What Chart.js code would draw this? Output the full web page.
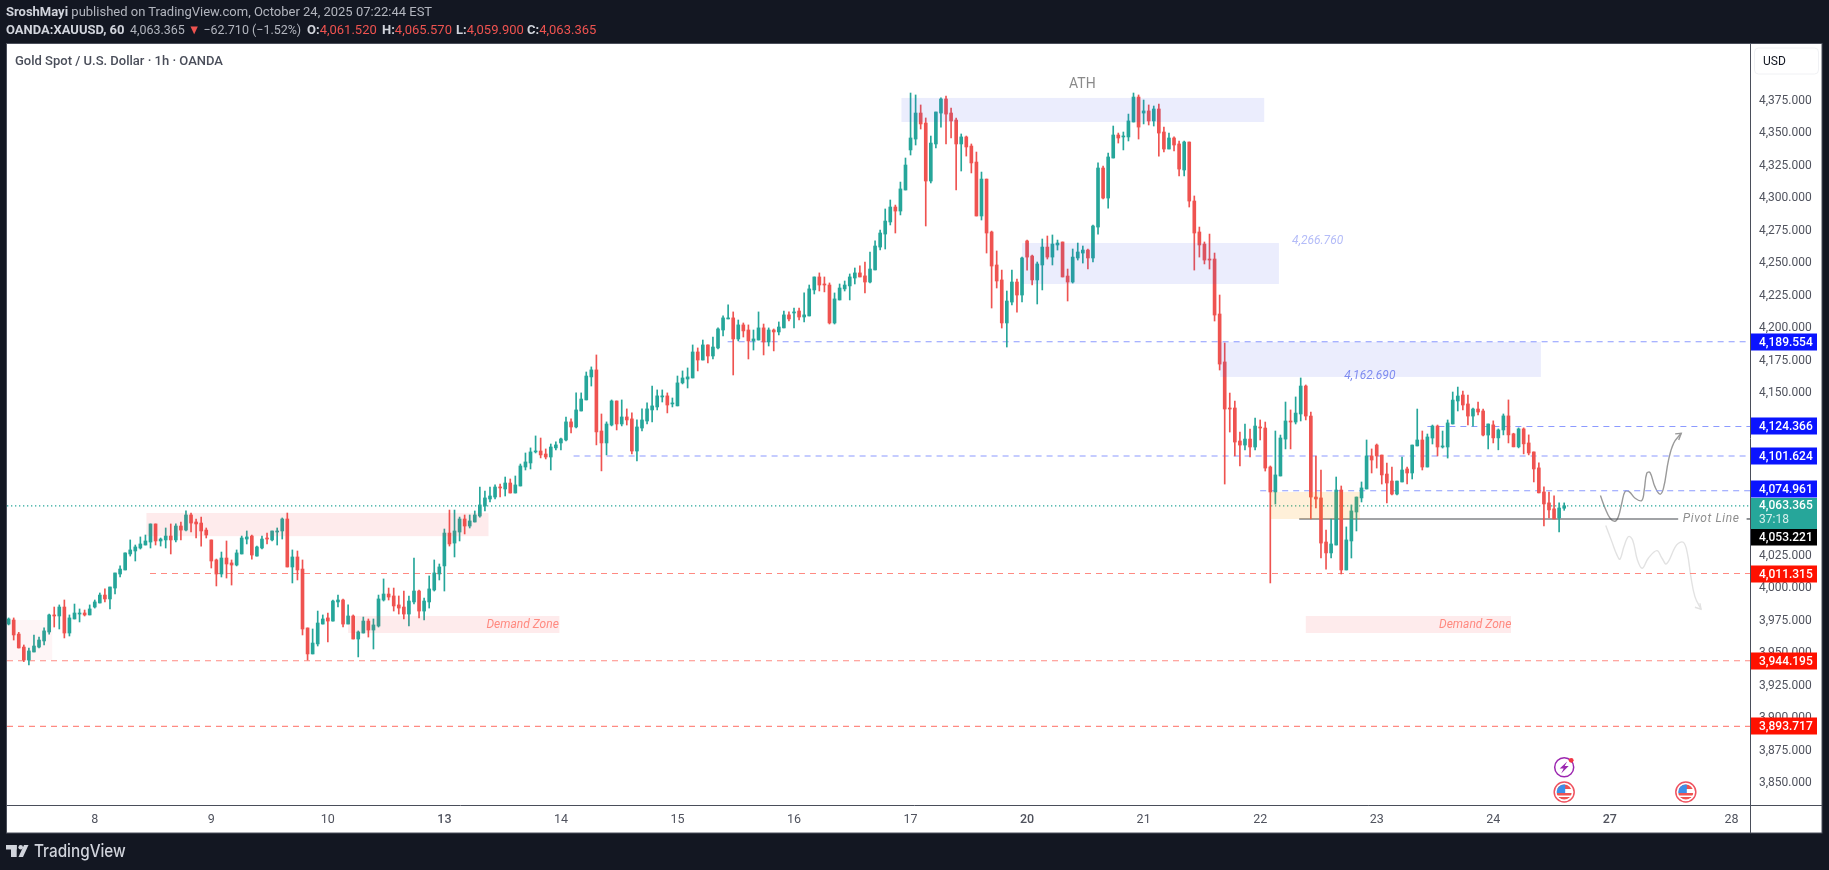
<!DOCTYPE html>
<html>
<head>
<meta charset="utf-8">
<title>XAUUSD</title>
<script src="https://cdn.jsdelivr.net/npm/chart.js@4"></script>
<style>
  html, body { margin: 0; padding: 0; background: #131722; overflow: hidden; }
  #wrap { position: relative; width: 1829px; height: 870px; }
  canvas { position: absolute; left: 0; top: 0; }
  .txt { position: absolute; white-space: pre; font-family: Roboto, sans-serif; font-size: 13px; line-height: 16px; color: #b2b5be; }
  .txt b { color: #d1d4dc; font-weight: 700; }
  .txt i { font-style: normal; color: #ef5350; }
  #logoText { font-family: Inter, sans-serif; font-weight: 500; font-size: 17px; line-height: 20px; color: #d1d4dc; transform: scaleX(.9); transform-origin: left center; }
  #title { font-size: 13px; color: #4a4e5a; font-weight: 500; }
  #change { transform: scaleX(.96); transform-origin: left center; }
</style>
</head>
<body>
<div id="wrap">
  <canvas id="myChart" width="1829" height="870"></canvas>
  <div class="txt" style="left:6px;top:4px"><b>SroshMayi</b> published on TradingView.com, October 24, 2025 07:22:44 EST</div>
  <div class="txt" style="left:6px;top:22px"><b>OANDA:XAUUSD, 60</b></div>
  <div class="txt" id="change" style="left:130px;top:22px">4,063.365 <i>▼</i> −62.710 (−1.52%)</div>
  <div class="txt" style="left:307px;top:22px"><b>O:</b><i>4,061.520</i></div>
  <div class="txt" style="left:382px;top:22px"><b>H:</b><i>4,065.570</i></div>
  <div class="txt" style="left:456px;top:22px"><b>L:</b><i>4,059.900</i></div>
  <div class="txt" style="left:527px;top:22px"><b>C:</b><i>4,063.365</i></div>
  <div class="txt" id="title" style="left:15px;top:53px">Gold Spot / U.S. Dollar · 1h · OANDA</div>
  <div class="txt" id="logoText" style="left:34px;top:841px">TradingView</div>
</div>
<script>
// OHLC, one value per hourly candle
const opens = [
  3972.4,3975.5,3964.7,3954.7,3944.7,3950.9,3954.7,3959.4,3966.3,3979.4,
  3978.6,3985.5,3965.5,3976.3,3980.1,3980.9,3979.4,3985.5,3988.6,3994.7,
  3991.7,4000.1,4010.9,4014,4026.3,4028.6,4030.9,4033.2,4035.5,4049.4,
  4036.3,4037.1,4040.1,4037.1,4047.8,4044.7,4056.3,4050.9,4050.1,4044.7,
  4037.1,4021.7,4010.9,4023.2,4019.4,4017.8,4026.3,4037.8,4040.1,4024.7,
  4030.9,4038.6,4037.1,4043.2,4044,4053.2,4016.3,4024,4014.7,3969.4,
  3949.4,3957.1,3972.4,3977.1,3974.7,3989.4,3990.9,3972.4,3978.6,3960.9,
  3965.5,3974.7,3967.8,3970.9,3990.9,3995.5,3994,3987.1,3985.5,3980.1,
  3989.4,3997.8,3982.4,3989.4,3998.6,4010.9,4017.1,4042.4,4034.7,4043.2,
  4053.2,4047.8,4050.9,4055.5,4063.2,4068.6,4070.1,4077.8,4076.3,4080.9,
  4073.2,4078.6,4093.2,4096.3,4104.8,4105.5,4103.2,4100.9,4107.9,4111.7,
  4114,4127.9,4124,4136.3,4144.8,4162.5,4167.9,4120.9,4111.7,4125.5,
  4144,4126.3,4131.7,4130.2,4105.5,4123.2,4128.6,4137.1,4139.4,4147.1,
  4147.9,4141.7,4140.2,4157.9,4160.9,4161.7,4181.7,4175.5,4187.1,4178.6,
  4184.8,4198.6,4207.1,4207.9,4191.7,4202.5,4198.6,4190.2,4190.9,4200.2,
  4189.4,4198.6,4197.1,4200.2,4210.2,4211.7,4213.2,4208.6,4209.4,4229.4,
  4239.4,4234,4233.2,4204,4221.7,4230.2,4232.5,4238.6,4242.5,4240.2,
  4235.5,4244.8,4262.4,4272.4,4281.7,4293.2,4290.1,4306.3,4337.1,4345.5,
  4365.5,4357.8,4313.2,4341.7,4365.5,4376.3,4365.5,4360.1,4341.7,4347.1,
  4340.1,4327.8,4286.3,4314.7,4274,4248.6,4237.1,4204,4220.1,4235.5,
  4225.5,4267.1,4255.5,4237.1,4248.6,4262.4,4254.7,4264,4266.3,4240.1,
  4235.5,4254,4257.8,4260.1,4254,4277.8,4323.2,4300.1,4330.9,4348.6,
  4347.1,4347.1,4358.6,4377.8,4365.5,4367.1,4359.4,4368.6,4350.9,4337.8,
  4346.3,4341.7,4321.7,4343.2,4297.8,4274,4264.7,4253.2,4253.2,4210.9,
  4174,4138.6,4138.6,4113.2,4110.1,4114.7,4108.6,4124,4123.2,4093.2,
  4074,4086.3,4114.7,4128.6,4127.8,4134,4155.5,4132.4,4070.1,4069.4,
  4035.5,4027.1,4033.2,4075.5,4014,4036.3,4058.6,4069.4,4076.3,4101.7,
  4110.1,4102.4,4087.8,4082.4,4072.4,4081.7,4091.7,4088.6,4109.4,4114,
  4093.2,4115.5,4124.7,4108.6,4108.6,4126.3,4144,4148.6,4141.7,4132.4,
  4137.8,4136.3,4117.8,4125.6,4115.6,4121.7,4132.5,4118.7,4108.7,4122.5,
  4111.7,4104.8,4092.5,4074,4065.6,4061,4054,4061.5
];
const highs = [
  3977.1,3977.1,3966,3956.3,3954,3964,3962.4,3969.4,3980.1,3985.5,
  3987.1,3990.9,3979.4,3987.8,3984,3983.2,3987.1,3990.9,3996.3,3999.4,
  4000.9,4011.7,4017.1,4027.1,4037.1,4033.2,4039.4,4040.9,4049.4,4049.4,
  4038.6,4046.3,4049.4,4049.4,4050.9,4059.4,4057.8,4053.2,4054.7,4046.3,
  4037.1,4022.4,4027.8,4036.3,4021.7,4029.4,4040.1,4044,4040.9,4032.4,
  4040.1,4042.4,4044,4046.3,4054,4057.8,4029.4,4028.6,4021.7,3969.4,
  3968.6,3982.4,3979.4,3980.9,3990.9,3994.7,3991.7,3987.1,3979.4,3967.1,
  3977.8,3976.3,3976.3,3994.7,4007.1,4000.1,4000.1,3994,3997.8,3994,
  4023.2,3998.6,3992.4,4009.4,4021.7,4018.6,4045.5,4060.1,4060.1,4054.7,
  4056.3,4056.3,4059.4,4077.8,4074.7,4077.8,4079.4,4080.1,4085.5,4084,
  4086.3,4095.5,4104,4107.9,4117.1,4115.5,4107.1,4110.9,4112.5,4115.5,
  4131.7,4130.2,4150.2,4150.2,4166.3,4170.2,4179.4,4134,4127.9,4144.8,
  4144,4144.8,4137.9,4134.8,4129.4,4137.9,4142.5,4155.5,4152.5,4152.5,
  4150.2,4146.3,4163.2,4167.1,4169.4,4187.1,4184.8,4190.9,4187.1,4193.2,
  4200.2,4209.4,4217.9,4212.5,4206.3,4204,4202.5,4198.6,4212.5,4203.2,
  4200.2,4199.4,4204.8,4213.2,4212.5,4215.5,4215.5,4227.1,4233.2,4239.4,
  4242.5,4239.4,4234.8,4227.1,4234,4236.3,4241.7,4246.3,4247.9,4250.9,
  4258.6,4267.1,4275.5,4291.7,4298.6,4294.7,4312.4,4330.9,4380.9,4379.4,
  4371.7,4361.7,4347.8,4366.3,4377.1,4378.6,4369.4,4361.7,4349.4,4347.8,
  4341.7,4335.5,4320.1,4314.7,4274.7,4259.4,4244.7,4228.6,4244.7,4237.8,
  4254.7,4267.8,4256.3,4250.9,4268.6,4270.9,4271.7,4267.8,4266.3,4245.5,
  4260.9,4265.5,4263.2,4260.9,4279.4,4327.1,4324.7,4334.7,4355.5,4350.1,
  4350.9,4364.7,4380.9,4379.4,4375.5,4371.7,4370.9,4372.4,4354.7,4350.1,
  4347.1,4344,4344,4343.2,4301.7,4277.8,4266.3,4272.4,4257.8,4225.5,
  4188.6,4150.1,4144,4120.1,4126.3,4122.4,4130.9,4129.4,4127.8,4094,
  4120.9,4117.8,4143.2,4137.1,4147.1,4161.7,4156.3,4135.5,4101.7,4090.9,
  4044.7,4053.2,4085.5,4078.6,4047.1,4064,4070.1,4081.7,4114,4107.1,
  4110.9,4102.4,4096.3,4093.2,4082.4,4100.9,4093.2,4110.1,4137.8,4120.9,
  4118.6,4125.5,4125.5,4120.9,4129.4,4150.9,4154.7,4151.7,4148.6,4138.6,
  4143.2,4137.8,4126.3,4128.7,4122.5,4134,4144.8,4119.2,4123.3,4123.3,
  4117.9,4104.8,4096.4,4077.9,4074,4071,4065.6,4065.6
];
const lows = [
  3971.7,3960.1,3954,3943.5,3940.9,3950.9,3954,3956.3,3964.7,3970.1,
  3968.6,3961.7,3963.2,3976.3,3974,3978.6,3979.4,3984.7,3988.6,3989.4,
  3984,3995.5,4008.6,4014,4024.7,4020.9,4030.1,4033.2,4030.9,4033.2,
  4032.4,4030.9,4026.3,4035.5,4037.1,4044,4043.2,4038.6,4032.4,4038.6,
  4015.5,4001.7,4008.6,4007.8,4002.4,4017.1,4026.3,4034,4022.4,4024.7,
  4030.1,4034,4036.3,4033.2,4037.8,4016.3,4004,4006.3,3964,3944.7,
  3949.4,3955.5,3972.4,3958.6,3974.7,3985.5,3970.1,3972.4,3960.9,3947.1,
  3965.5,3962.4,3953.2,3970.1,3990.1,3990.9,3982.4,3980.1,3976.3,3970.9,
  3987.8,3977.1,3975.5,3984.7,3997.8,4006.3,3997.8,4032.4,4024,4036.3,
  4041.7,4046.3,4050.9,4054.7,4059.4,4066.3,4068.6,4070.1,4070.9,4073.2,
  4073.2,4078.6,4090.9,4091.7,4104,4100.2,4099.4,4090.9,4106.3,4106.3,
  4113.2,4119.4,4123.2,4136.3,4144.8,4155.5,4110.2,4090.2,4102.5,4124.8,
  4121.7,4124.8,4125.5,4103.2,4097.9,4120.9,4126.3,4127.9,4137.1,4143.2,
  4134.8,4139.4,4140.2,4157.1,4154,4161.7,4167.1,4175.5,4173.2,4176.3,
  4184,4194,4207.1,4164,4190.2,4193.2,4176.3,4183.2,4190.9,4179.4,
  4186.3,4182.5,4194.8,4200.2,4205.5,4200.2,4206.3,4204.8,4209.4,4226.3,
  4228.6,4227.9,4203.2,4203.2,4221.7,4228.6,4221.7,4234,4239.4,4227.1,
  4234.8,4244.8,4260.1,4260.9,4279.4,4273.2,4287.1,4306.3,4333.2,4340.9,
  4353.2,4278.6,4311.7,4338.6,4354.7,4341.7,4346.3,4306.3,4320.9,4332.4,
  4319.4,4286.3,4283.2,4257.8,4215.5,4230.9,4200.1,4185.5,4217.8,4212.4,
  4220.1,4244.7,4233.2,4218.6,4229.4,4253.2,4248.6,4260.1,4239.4,4220.9,
  4234.7,4252.4,4250.1,4245.5,4250.9,4272.4,4299.4,4292.4,4330.9,4342.4,
  4337.1,4344,4358.6,4345.5,4357.1,4356.3,4355.5,4332.4,4335.5,4337.8,
  4336.3,4317.1,4317.1,4293.2,4244.7,4254.7,4249.4,4245.5,4205.5,4167.8,
  4080.1,4120.1,4101.7,4094,4106.3,4100.9,4106.3,4114,4090.1,4004,
  4064.7,4086.3,4107.1,4107.1,4126.3,4128.6,4129.4,4053.2,4061.7,4023.2,
  4014.7,4023.2,4033.2,4010.9,4014,4023.2,4044,4066.3,4076.3,4088.6,
  4092.4,4080.1,4065.5,4071.7,4071.7,4081.7,4080.1,4084,4109.4,4090.9,
  4093.2,4110.9,4101.7,4107.8,4100.1,4126.3,4136.3,4137.1,4125.5,4124.7,
  4133.2,4117.1,4107.1,4111.7,4106.4,4117.9,4111.7,4108.7,4107.9,4103.3,
  4102.5,4081.7,4073.3,4047.9,4054,4053.3,4043.3,4059.9
];
const closes = [
  3976.3,3964,3954,3944.7,3951.7,3955.5,3960.1,3967.1,3979.4,3978.6,
  3985.5,3965.5,3977.1,3980.9,3980.9,3979.4,3984,3989.4,3994.7,3991.7,
  4000.9,4011.7,4014.7,4027.1,4029.4,4031.7,4034,4036.3,4049.4,4036.3,
  4037.8,4040.1,4037.1,4047.8,4044.7,4056.3,4050.1,4049.4,4044,4040.9,
  4020.9,4010.9,4023.2,4018.6,4017.8,4027.1,4038.6,4039.4,4025.5,4031.7,
  4037.8,4037.8,4044,4044,4053.2,4016.3,4024,4014,3968.6,3949.4,
  3957.8,3973.2,3976.3,3974.7,3990.1,3990.9,3972.4,3978.6,3960.9,3966.3,
  3974.7,3967.8,3971.7,3991.7,3995.5,3993.2,3986.3,3984.7,3980.1,3990.1,
  3997.8,3982.4,3990.1,3999.4,4011.7,4016.3,4042.4,4034,4044,4053.2,
  4047.8,4051.7,4056.3,4064,4069.4,4070.9,4077.8,4077.1,4080.9,4073.2,
  4079.4,4094,4097.1,4104.8,4105.5,4102.5,4100.9,4108.6,4110.2,4114.8,
  4127.9,4124,4137.1,4145.5,4163.2,4167.9,4120.2,4111.7,4126.3,4144,
  4126.3,4131.7,4129.4,4105.5,4124,4129.4,4137.9,4140.2,4147.9,4147.9,
  4140.9,4142.5,4157.9,4161.7,4162.5,4181.7,4175.5,4187.1,4178.6,4185.5,
  4199.4,4207.9,4207.9,4191.7,4202.5,4197.9,4190.2,4191.7,4200.2,4189.4,
  4198.6,4197.1,4200.9,4210.2,4207.1,4212.5,4208.6,4210.2,4230.2,4239.4,
  4233.2,4233.2,4204,4222.5,4230.9,4233.2,4239.4,4242.5,4239.4,4235.5,
  4245.5,4263.2,4273.2,4282.4,4293.2,4290.1,4307.1,4325.5,4346.3,4365.5,
  4357.1,4313.2,4342.4,4366.3,4376.3,4364.7,4359.4,4341.7,4347.1,4339.4,
  4327.1,4286.3,4314.7,4273.2,4247.8,4236.3,4204,4220.9,4235.5,4225.5,
  4254,4254.7,4237.1,4249.4,4262.4,4254.7,4264.7,4265.5,4239.4,4235.5,
  4254.7,4258.6,4260.1,4254,4278.6,4323.2,4300.1,4331.7,4348.6,4346.3,
  4347.8,4359.4,4377.8,4354.7,4367.1,4359.4,4368.6,4350.1,4337.8,4346.3,
  4340.9,4322.4,4343.2,4297.8,4273.2,4264,4252.4,4252.4,4210.1,4172.4,
  4137.8,4137.8,4112.4,4110.1,4114.7,4108.6,4124.7,4123.2,4092.4,4074,
  4087.1,4115.5,4128.6,4127.8,4134.7,4155.5,4132.4,4070.1,4068.6,4034.7,
  4027.1,4034,4075.5,4014,4037.1,4059.4,4070.1,4077.1,4101.7,4098.6,
  4101.7,4087.1,4080.9,4072.4,4082.4,4090.9,4088.6,4110.1,4114,4093.2,
  4116.3,4124.7,4108.6,4109.4,4127.1,4144.7,4147.8,4140.9,4132.4,4137.8,
  4135.5,4117.8,4126.3,4115.6,4121.7,4132.5,4117.9,4108.7,4122.5,4111,
  4104,4091.7,4073.3,4064.8,4060.2,4053.3,4061.7,4063.4
];

// x axis works in candle index
const dayTicks = [17,40,63,86,109,132,155,178,201,224,247,270,293,316,340];
const dayLabels = ["8","9","10","13","14","15","16","17","20","21","22","23","24","27","28"];
const boldDays = ["13","20","27"];

// horizontal levels
const levelValues = [4189.554,4124.366,4101.624,4074.961,4011.315,3944.195,3893.717];
const levelStarts = [141.9,280,111.5,247,27.9,-0.32,-0.32];
const levelKinds = ["blue","blue","blue","blue","red","red","red"];
const labelShifts = [0,0,0,-2,1,0,0];
const pivotValue = 4053.221;
const lastPrice = 4063.365;

// zones: start, end, top, bottom
const zoneStarts = [176.2,200,239.1,249,27.2,67,-0.32,256];
const zoneEnds = [247.8,250.7,302.4,266.7,94.7,108.7,8.6,296.5];
const zoneTops = [4377.1,4265.5,4189.4,4074,4057.8,3978.6,3975.5,3978.6];
const zoneBottoms = [4358.6,4234,4162.5,4053.2,4040,3965.5,3944.7,3965.5];
const zoneColors = ["rgba(60,80,235,.1)","rgba(60,80,235,.1)","rgba(60,80,235,.1)","rgba(255,152,0,.15)",
  "rgba(242,54,69,.1)","rgba(242,54,69,.1)","rgba(242,54,69,.05)","rgba(242,54,69,.1)"];

// hand drawn projections
const upPathX = [314.15,315.07,316.06,317.05,317.7,318.36,319,319.8,321,322.3,322.8,323.3,323.95,324.9,325.9,326.6,327.6,328.6,330.1];
const upPathY = [4071.2,4061.5,4053.8,4051.5,4055.1,4065.3,4074.3,4074.3,4069.2,4067.4,4075.6,4088.4,4088.9,4078.1,4072.3,4076.9,4098.7,4111.5,4119.2];
const upHeadX = [328.9,330.1,329.6];
const upHeadY = [4118.7,4119.2,4114];
const downPathX = [315.2,316.4,317.4,318,318.8,319.7,320.5,321.45,322.4,323.6,325.3,326.3,327.2,329.2,330.5,331.3,332,332.8,334];
const downPathY = [4048.2,4035.8,4025.6,4022.3,4032,4039.7,4037.1,4021.7,4015.3,4023,4028.9,4023,4018.7,4033.3,4035.3,4026.9,4008.9,3993.5,3983.8];
const downHeadX = [332.8,334,333.8];
const downHeadY = [3985.3,3983.8,3988.4];

// chart notes
const noteTexts = ["ATH","4,266.760","4,162.690","Pivot Line","Demand Zone","Demand Zone"];
const noteX = [211.9,253.3,263.6,330.4,94.3,282.3];
const noteY = [4387.8,4267,4163.2,4053.2,3972,3972];
const noteColors = ["#8a8a8a","#b4bcf8","#7f8cf0","#8f8f8f","#ff8a80","#ff8a80"];
const eventFlags = [307,331];
const eventBolt = 307;

const GREEN = "#26a69a";
const RED = "#ef5350";
const xMin = -0.32;
const xMax = 343.67;
const yMin = 3833.2;
const yMax = 4418.6;

const fmtPrice = (v) => v.toLocaleString("en-US", { minimumFractionDigits: 3, maximumFractionDigits: 3 });
const candleColors = closes.map((c, i) => (c >= opens[i] ? GREEN : RED));
const pts = (xs, ys) => xs.map((x, i) => ({ x, y: ys[i] }));

const lineSet = (data, color, extra) => Object.assign({
  type: "line", data, borderColor: color, borderWidth: 1, pointRadius: 0, fill: false, order: 5
}, extra);

const levelSets = levelValues.map((v, i) =>
  lineSet([{ x: levelStarts[i], y: v }, { x: xMax, y: v }],
    levelKinds[i] === "blue" ? "#8c9aff" : "#ff8a82", { borderDash: [6, 5], borderWidth: 1.1 }));

// frame, zones, labels and icons
const overlay = {
  id: "overlay",
  beforeDraw(chart) {
    const c = chart.ctx;
    c.save();
    c.fillStyle = "#131722";
    c.fillRect(0, 0, 1829, 870);
    c.fillStyle = "#ffffff";
    c.fillRect(6.5, 44, 1815.5, 789);
    c.strokeStyle = "#4a4e5a";
    c.lineWidth = 1;
    c.strokeRect(6.5, 43.5, 1815.5, 789.5);
    c.beginPath();
    c.moveTo(1750.5, 44); c.lineTo(1750.5, 833);
    c.moveTo(6.5, 805.5); c.lineTo(1822, 805.5);
    c.stroke();
    // logo
    c.fillStyle = "#d1d4dc";
    c.fillRect(6, 845, 10.7, 4.5);
    c.fillRect(11, 845, 5.7, 12);
    c.beginPath(); c.arc(20.7, 847.3, 2.3, 0, Math.PI * 2); c.fill();
    c.beginPath(); c.moveTo(24, 845); c.lineTo(28.5, 845); c.lineTo(23, 857); c.lineTo(18.5, 857); c.closePath(); c.fill();
    c.restore();
  },
  afterDatasetsDraw(chart) {
    const c = chart.ctx;
    const X = chart.scales.x;
    const Y = chart.scales.y;
    c.save();
    zoneStarts.forEach((s, i) => {
      const x0 = X.getPixelForValue(s);
      const y0 = Y.getPixelForValue(zoneTops[i]);
      c.fillStyle = zoneColors[i];
      c.fillRect(x0, y0, X.getPixelForValue(zoneEnds[i]) - x0, Y.getPixelForValue(zoneBottoms[i]) - y0);
    });
    // notes
    c.textBaseline = "middle";
    noteTexts.forEach((t, i) => {
      c.font = t === "ATH" ? "14px Roboto" : "italic 12px Roboto";
      c.letterSpacing = t === "Pivot Line" ? "0.6px" : "0px";
      c.fillStyle = noteColors[i];
      c.textAlign = t === "ATH" ? "center" : "left";
      c.fillText(t, X.getPixelForValue(noteX[i]), Y.getPixelForValue(noteY[i]));
    });
    c.letterSpacing = "0px";
    // event icons
    eventFlags.forEach((idx) => {
      const x = X.getPixelForValue(idx);
      const y = 792;
      c.beginPath(); c.arc(x, y, 10, 0, Math.PI * 2);
      c.fillStyle = "#fff"; c.fill();
      c.lineWidth = 1.5; c.strokeStyle = "#f0525f"; c.stroke();
      c.save();
      c.beginPath(); c.arc(x, y, 7.6, 0, Math.PI * 2); c.clip();
      c.fillStyle = "#ef5350";
      c.fillRect(x - 8, y - 8, 16, 5);
      c.fillRect(x - 8, y + 1, 16, 2.5);
      c.fillRect(x - 8, y + 5, 16, 3);
      c.fillStyle = "#3d8fe8";
      c.fillRect(x - 8, y - 8, 9, 9);
      c.restore();
    });
    const bx = X.getPixelForValue(eventBolt);
    c.beginPath(); c.arc(bx, 767.3, 9.5, 0, Math.PI * 2);
    c.fillStyle = "#fff"; c.fill();
    c.lineWidth = 1.5; c.strokeStyle = "#9c27b0"; c.stroke();
    c.fillStyle = "#9c27b0";
    c.beginPath();
    c.moveTo(bx + 3, 761.5); c.lineTo(bx - 4.5, 768.5); c.lineTo(bx - 0.5, 768.5);
    c.lineTo(bx - 3, 773.5); c.lineTo(bx + 4.5, 766); c.lineTo(bx + 0.5, 766); c.closePath(); c.fill();
    c.beginPath(); c.arc(bx + 7, 760.3, 2.4, 0, Math.PI * 2);
    c.fillStyle = "#f23645"; c.fill();
    c.restore();
  },
  afterDraw(chart) {
    const c = chart.ctx;
    const Y = chart.scales.y;
    c.save();
    c.textBaseline = "middle";
    c.textAlign = "left";
    // USD button
    c.fillStyle = "#fff";
    c.strokeStyle = "#f0f1f4";
    c.beginPath(); c.roundRect(1754.5, 48, 64, 26, 4); c.fill(); c.stroke();
    c.fillStyle = "#131722";
    c.font = "12px Roboto";
    c.fillText("USD", 1763, 61.5);
    // price labels
    c.font = "500 12px Roboto";
    const tag = (v, shift, col) => {
      const y = Math.round(Y.getPixelForValue(v) + shift);
      c.fillStyle = col;
      c.fillRect(1751, y - 8.5, 66, 17);
      c.fillStyle = "#fff";
      c.fillText(fmtPrice(v), 1759, y + 0.5);
    };
    levelValues.forEach((v, i) => tag(v, labelShifts[i], levelKinds[i] === "blue" ? "#0a14ff" : "#ff1100"));
    tag(pivotValue, 18, "#000000");
    const ly = Y.getPixelForValue(lastPrice);
    c.fillStyle = GREEN;
    c.fillRect(1751, 498, 66, 31);
    c.fillStyle = "#fff";
    c.fillText(fmtPrice(lastPrice), 1759, ly);
    c.fillStyle = "#d6f0ec";
    c.font = "12px Roboto";
    c.fillText("37:18", 1759, 519.5);
    c.restore();
  }
};

new Chart(document.getElementById("myChart"), {
  type: "bar",
  data: {
    datasets: [
      { label: "body", data: closes.map((c, i) => ({ x: i, y: [opens[i], c] })),
        backgroundColor: candleColors, barThickness: 3, minBarLength: 1, order: 1 },
      { label: "wick", data: highs.map((h, i) => ({ x: i, y: [lows[i], h] })),
        backgroundColor: candleColors, barThickness: 1, order: 2 },
      ...levelSets,
      lineSet([{ x: xMin, y: lastPrice }, { x: xMax, y: lastPrice }], GREEN, { borderDash: [1.3, 2.7], borderWidth: 1.3 }),
      lineSet([{ x: 254.7, y: pivotValue }, { x: 329.5, y: pivotValue }], "#45494f", { borderWidth: 1.2 }),
      lineSet([{ x: 343, y: pivotValue }, { x: xMax, y: pivotValue }], "#45494f", { borderWidth: 1.2 }),
      lineSet(pts(upPathX, upPathY), "#9a9a9a", { borderWidth: 1.4, tension: 0.4 }),
      lineSet(pts(upHeadX, upHeadY), "#9a9a9a", { borderWidth: 1.4 }),
      lineSet(pts(downPathX, downPathY), "#e2e2e2", { borderWidth: 1.4, tension: 0.4 }),
      lineSet(pts(downHeadX, downHeadY), "#e2e2e2", { borderWidth: 1.4 })
    ]
  },
  options: {
    responsive: false,
    animation: false,
    layout: { padding: { left: 7, top: 44, right: 7, bottom: 37 } },
    plugins: { legend: { display: false }, tooltip: { enabled: false } },
    datasets: { bar: { grouped: false, borderWidth: 0 } },
    events: [],
    scales: {
      x: {
        type: "linear",
        offset: false,
        min: xMin,
        max: xMax,
        grid: { display: false, drawTicks: false },
        border: { display: false },
        afterBuildTicks: (s) => { s.ticks = dayTicks.map((value) => ({ value })); },
        afterFit: (s) => { s.height = 28; },
        ticks: {
          autoSkip: false,
          maxRotation: 0,
          padding: 7,
          color: "#50535e",
          font: (ctx) => ({ family: "Roboto", size: 12.5,
            weight: ctx.tick && boldDays.includes(dayLabels[dayTicks.indexOf(ctx.tick.value)]) ? "500" : "400" }),
          callback: (v) => dayLabels[dayTicks.indexOf(v)]
        }
      },
      y: {
        position: "right",
        min: yMin,
        max: yMax,
        grid: { display: false, drawTicks: false },
        border: { display: false },
        afterBuildTicks: (s) => { s.ticks = s.ticks.filter((t) => t.value >= 3850 && t.value <= 4375); },
        afterFit: (s) => { s.width = 72; },
        ticks: {
          stepSize: 25,
          includeBounds: false,
          padding: 9,
          color: "#50535e",
          font: { family: "Roboto", size: 12 },
          callback: (v) => fmtPrice(v)
        }
      }
    }
  },
  plugins: [overlay]
});
</script>
</body>
</html>
